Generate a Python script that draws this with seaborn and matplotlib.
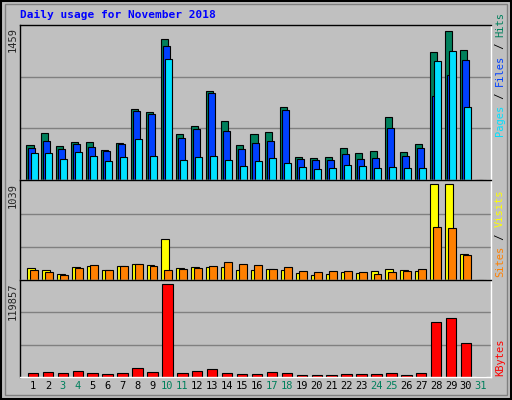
import numpy as np
import pandas as pd
import matplotlib
matplotlib.use('Agg')
import matplotlib.pyplot as plt
import seaborn as sns

sns.set_style('white')
plt.rcParams['font.family'] = ['DejaVu Sans Mono']

days = list(range(1, 32))
hits = [343, 463, 334, 374, 374, 294, 367, 694, 665, 1380, 447, 526, 873, 582,
        343, 453, 473, 714, 228, 218, 228, 318, 268, 288, 615, 278, 357, 1251, 1459, 1270, 0]
files = [318, 380, 308, 357, 327, 288, 357, 675, 645, 1310, 417, 496, 853, 486,
         308, 367, 387, 685, 208, 198, 198, 258, 208, 218, 506, 238, 318, 824, 1032, 1171, 0]
pages = [268, 268, 208, 278, 238, 188, 228, 407, 238, 1181, 198, 228, 238, 198,
         139, 188, 218, 169, 129, 109, 119, 149, 139, 119, 129, 119, 119, 1161, 1261, 714, 0]
visits = [136, 113, 68, 147, 158, 113, 158, 181, 169, 452, 136, 147, 147, 147,
          113, 113, 124, 113, 79, 56, 68, 90, 79, 102, 124, 113, 102, 1039, 1039, 282, 0]
sites = [113, 90, 56, 136, 169, 113, 158, 181, 158, 113, 124, 136, 158, 203,
         181, 169, 124, 147, 102, 90, 102, 102, 90, 68, 90, 102, 124, 579, 567, 271, 0]
kbytes = [5270, 6587, 5270, 7904, 5270, 3952, 5270, 11856, 6587, 119857, 5270, 7904,
          10539, 5270, 3952, 3952, 6587, 5270, 2635, 2635, 2635, 3952, 3952, 3952,
          5270, 2635, 5270, 70480, 76627, 43698, 0]
weekend = [3, 4, 10, 11, 17, 18, 24, 25, 31]

W, H = 512, 400
fig = plt.figure(figsize=(W / 100, H / 100), dpi=100)
fig.patch.set_facecolor('#c0c0c0')
bg = '#c0c0c0'

def ax_px(x0, y0, x1, y1):
    return fig.add_axes([x0 / W, 1 - y1 / H, (x1 - x0) / W, (y1 - y0) / H])

X0, X1 = 20, 491
panels = [(24.7, 180.3), (180.3, 280.3), (280.3, 376.7)]
axes = [ax_px(X0, a, X1, b) for a, b in panels]

def grouped(ax, series, colors, offsets, width, top):
    for vals, col, off in zip(series, colors, offsets):
        d = pd.DataFrame({'x': [v + off for v in days], 'y': vals})
        sns.barplot(data=d, x='x', y='y', native_scale=True, width=width,
                    color=col, edgecolor='black', linewidth=0.8, saturation=1, ax=ax)
    ax.set_ylim(0, top)
    for g in (top / 3, 2 * top / 3):
        ax.axhline(g, color='#808080', lw=1, zorder=0)

grouped(axes[0], [hits, files, pages], ['#00805c', '#0040ff', '#00e0ff'],
        [-0.2, -0.07, 0.07], 0.47, max(hits) * 153 / 147)
grouped(axes[1], [visits, sites], ['#ffff00', '#ff8000'],
        [-0.13, 0.07], 0.53, max(visits) * 288 / 276)
grouped(axes[2], [kbytes], ['#ff0000'], [0], 0.7, max(kbytes) * 285 / 273)

for ax in axes:
    ax.set_facecolor(bg)
    ax.set_xlim(0.13, 31.67)
    ax.set_xticks([])
    ax.set_yticks([])
    ax.set_xlabel('')
    ax.set_ylabel('')
    for s in ax.spines.values():
        s.set_color('white')
        s.set_linewidth(1)
    ax.spines['left'].set_color('black')
    ax.spines['top'].set_color('black')

fs = 7.5
CH = 6.2  # pixel width of one monospace char

def left_label(txt, y_top):
    fig.text(13 / W, 1 - y_top / H, txt, rotation=90, ha='center', va='top', fontsize=fs)

left_label(str(max(hits)), 27)
left_label(str(max(visits)), 183)
left_label(str(max(kbytes)), 283)

def side_label(parts, y_bottom):
    # stacked rotated labels on the right, reading bottom to top
    y = y_bottom
    for txt, col in parts:
        fig.text(500 / W, 1 - y / H, txt, rotation=90, ha='center', va='bottom',
                 fontsize=fs, color=col)
        y -= len(txt) * CH

side_label([('Pages', '#00e0ff'), (' / ', 'black'), ('Files', '#0040ff'),
            (' / ', 'black'), ('Hits', '#00805c')], 136)
side_label([('Sites', '#ff8000'), (' / ', 'black'), ('Visits', '#ffff00')], 277)
side_label([('KBytes', '#ff0000')], 376)

for d in days:
    col = '#00805c' if d in weekend else 'black'
    axes[2].text(d, -0.04, str(d), transform=axes[2].get_xaxis_transform(),
                 ha='center', va='top', fontsize=fs, color=col)

fig.text(20 / W, 1 - 15 / H, 'Daily usage for November 2018', color='#0000ff',
         fontsize=8, fontweight='bold', ha='left', va='center')

# outer frame
fig.add_artist(plt.Rectangle((0.002, 0.002), 0.996, 0.996, transform=fig.transFigure,
                             fill=False, edgecolor='black', lw=1.5))
fig.add_artist(plt.Rectangle((0.01, 0.012), 0.98, 0.978, transform=fig.transFigure,
                             fill=False, edgecolor='#808080', lw=1))

fig.savefig('out.png', dpi=100, facecolor=fig.get_facecolor())
